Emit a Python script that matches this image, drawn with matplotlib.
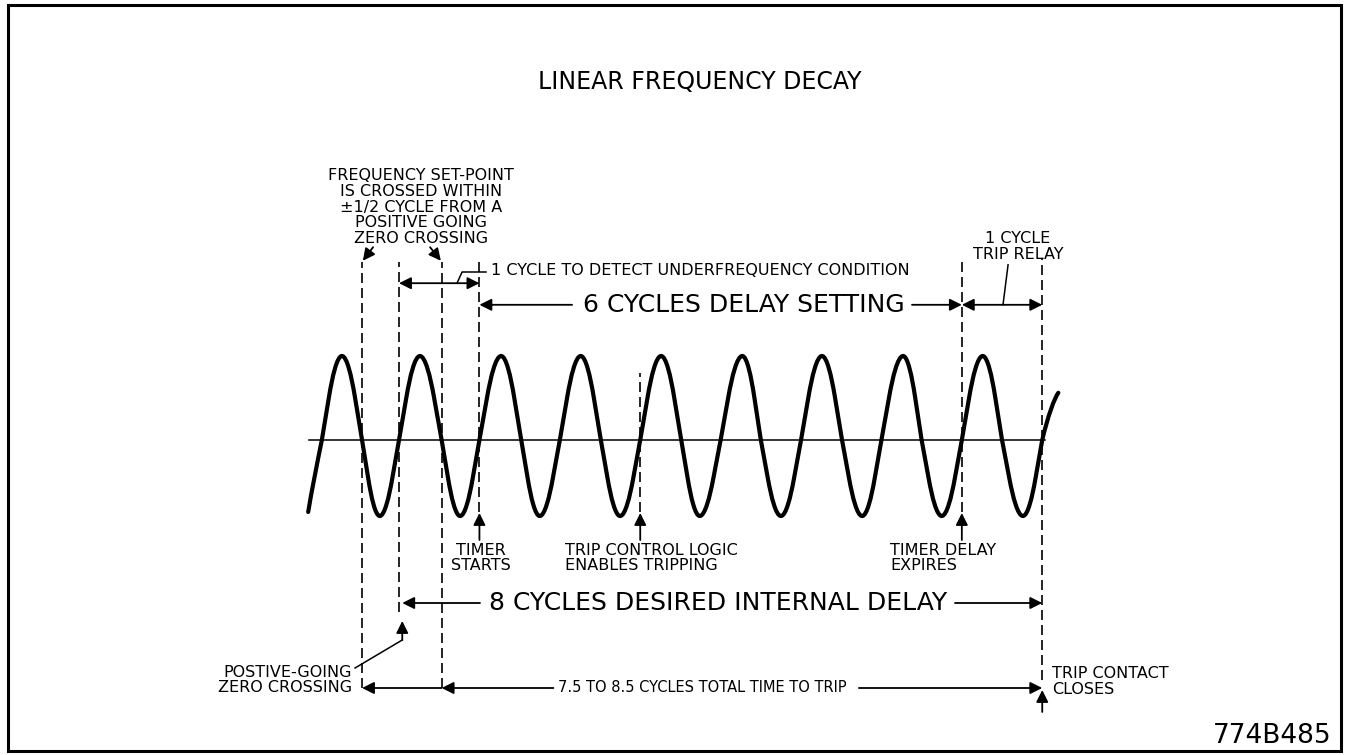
import matplotlib
matplotlib.use("Agg")
import matplotlib.pyplot as plt
from matplotlib.path import Path
from matplotlib.patches import PathPatch, Rectangle

# waveform: x in cycles (0 = the positive-going zero crossing),
# y in amplitude units (zero line = 0)
pos_cross = [-0.96, 0, 1, 2, 3, 4, 5, 6, 7, 8]
peaks = [-0.71, 0.26, 1.27, 2.26, 3.26, 4.27, 5.26, 6.27, 7.26]
neg_cross = [-0.46, 0.53, 1.52, 2.51, 3.51, 4.50, 5.51, 6.50, 7.50]
troughs = [-0.24, 0.76, 1.75, 2.75, 3.74, 4.75, 5.76, 6.75, 7.76]
peak_level = 1.05
trough_level = -0.95
wave_start = (-1.13, -0.90)
wave_end = (8.20, 0.59)
zero_line_span = (-1.12, 8.03)

# events, in cycles
t_set_lo = -0.46
t_zero = 0
t_set_hi = 0.53
t_timer_start = 1
t_trip_enable = 3
t_timer_expire = 7
t_trip = 8

NARROW = ["Liberation Sans Narrow", "DejaVu Sans"]
WIDE = ["DejaVu Sans"]
plt.rcParams["font.family"] = NARROW

fig = plt.figure(figsize=(13.48, 7.55), dpi=100)
ax = fig.add_axes([0, 0, 1, 1])
ax.set_xlim(-4.963, 11.803)
ax.set_ylim(-3.9375, 5.5)
ax.axis("off")

fig.patches.append(Rectangle((0.006, 0.005), 0.989, 0.989, transform=fig.transFigure,
                             fill=False, lw=2.2, ec="black"))

# ---- the wave: straight flanks, rounded tips, through the read key points
keys = []
for i in range(len(peaks)):
    keys.append((pos_cross[i], 0.0))
    keys.append((peaks[i], peak_level))
    keys.append((neg_cross[i], 0.0))
    keys.append((troughs[i], trough_level))
keys.append((pos_cross[-1], 0.0))

verts = [wave_start]
codes = [Path.MOVETO]
c0 = keys[0]
verts += [(wave_start[0] + 0.05, wave_start[1] + 0.3), (c0[0] - 0.07, -0.35), c0]
codes += [Path.CURVE4] * 3
for (t0, v0), (t3, v3) in zip(keys[:-1], keys[1:]):
    dt = t3 - t0
    if v0 == 0:
        verts += [(t0 + 0.36 * dt, 0.52 * v3),
                  (t0 + 0.52 * dt, 0.75 * v3), (t3 - 0.25 * dt, v3), (t3, v3)]
    else:
        verts += [(t0 + 0.25 * dt, v0), (t3 - 0.52 * dt, 0.75 * v0),
                  (t3 - 0.36 * dt, 0.52 * v0), (t3, v3)]
    codes += ([Path.LINETO] + [Path.CURVE4] * 3 if v0 == 0
              else [Path.CURVE4] * 3 + [Path.LINETO])
ce = keys[-1]
verts += [(ce[0] + 0.07, 0.3), (wave_end[0] - 0.05, wave_end[1] - 0.07), wave_end]
codes += [Path.CURVE4] * 3
ax.add_patch(PathPatch(Path(verts, codes), fill=False, lw=3.0, ec="black",
                       capstyle="round", joinstyle="round"))

ax.plot(zero_line_span, [0, 0], color="black", lw=1.1)

# ---- dashed event lines
ev_x = [t_set_lo, t_zero, t_set_hi, t_timer_start, t_trip_enable, t_timer_expire, t_trip]
ev_top = [2.225, 2.225, 2.225, 2.275, 0.84, 2.275, 2.275]
ev_bot = [-3.1, -2.15, -3.1, -0.9, -0.9, -0.9, -3.0]
ax.vlines(ev_x, ev_bot, ev_top, colors="black", lw=1.2, linestyles=(0, (6, 3)))


def arrow(x0, y0, x1, y1, style="-|>"):
    ax.annotate("", xy=(x1, y1), xytext=(x0, y0),
                arrowprops=dict(arrowstyle=style, lw=1.3, color="black",
                                shrinkA=0, shrinkB=0, mutation_scale=18))


def label(x, y, s, ha="center", size=11.5):
    ax.text(x, y, s, ha=ha, va="center", fontsize=size, family=WIDE,
            linespacing=1.05)


big = 18

ax.text(3.74, 4.47, "LINEAR FREQUENCY DECAY", ha="center", va="center",
        fontsize=17)

# top note
label(0.274, 2.91, "FREQUENCY SET-POINT\nIS CROSSED WITHIN\n±1/2 CYCLE FROM A\n"
      "POSITIVE GOING\nZERO CROSSING")
arrow(-0.323, 2.41, t_set_lo + 0.01, 2.24)
arrow(0.386, 2.41, t_set_hi - 0.01, 2.24)

# 1 cycle to detect
y1 = 1.96
arrow(t_zero, y1, t_timer_start, y1, "<|-|>")
ax.plot([0.721, 0.784, 1.082], [y1, 2.10, 2.10], color="black", lw=1.1)
label(1.144, 2.12, "1 CYCLE TO DETECT UNDERFREQUENCY CONDITION", ha="left")

# 6 cycles delay setting and 1 cycle trip relay
y6 = 1.69
arrow(2.152, y6, t_timer_start, y6)
arrow(6.38, y6, t_timer_expire, y6)
ax.text(4.29, y6, "6 CYCLES DELAY SETTING", ha="center", va="center", fontsize=big)
arrow(t_timer_expire, y6, t_trip, y6, "<|-|>")
ax.plot([7.575, 7.512], [2.19, y6], color="black", lw=1.1)
label(7.70, 2.42, "1 CYCLE\nTRIP RELAY")

# event labels under the wave
for t in (t_timer_start, t_trip_enable, t_timer_expire):
    arrow(t, -1.25, t, -0.9125)
label(1.02, -1.475, "TIMER\nSTARTS")
label(2.065, -1.475, "TRIP CONTROL LOGIC\nENABLES TRIPPING", ha="left")
label(6.107, -1.475, "TIMER DELAY\nEXPIRES", ha="left")

# 8 cycles desired internal delay
y8 = -2.0375
arrow(1.007, y8, t_zero + 0.04, y8)
ax.text(3.968, y8, "8 CYCLES DESIRED INTERNAL DELAY", ha="center", va="center",
        fontsize=big)
arrow(6.915, y8, t_trip, y8)
arrow(t_zero + 0.04, -2.5, t_zero + 0.04, -2.2625)
ax.plot([-0.547, t_zero + 0.04], [-2.85, -2.5], color="black", lw=1.1)
label(-0.585, -3.0, "POSTIVE-GOING\nZERO CROSSING", ha="right")

# 7.5 to 8.5 cycles total
y75 = -3.1
arrow(t_set_hi, y75, t_set_lo, y75)
arrow(1.92, y75, t_set_hi, y75)
label(1.98, y75, "7.5 TO 8.5 CYCLES TOTAL TIME TO TRIP", ha="left", size=10.5)
arrow(5.72, y75, t_trip, y75)
arrow(t_trip, -3.4, t_trip, -3.125)
label(8.122, -3.02, "TRIP CONTACT\nCLOSES", ha="left")

ax.text(11.6, -3.7, "774B485", ha="right", va="center", fontsize=19)

fig.savefig("out.png", dpi=100)
